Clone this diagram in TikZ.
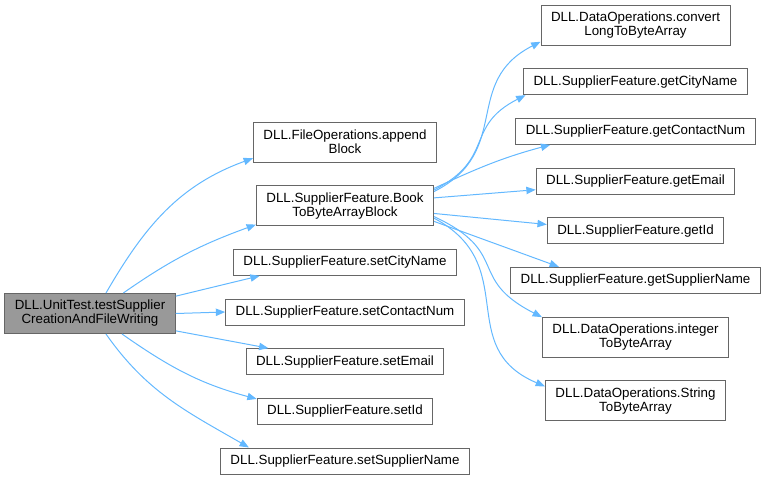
\documentclass[tikz,border=0pt]{standalone}
\usepackage{fontspec}
\setmainfont{Liberation Sans}
\usepackage{xcolor}
\usetikzlibrary{arrows.meta,positioning}
\definecolor{edgeblue}{HTML}{63B8FF}
\definecolor{boxgray}{HTML}{666666}
\definecolor{rootfill}{HTML}{999999}

\begin{document}
\begin{tikzpicture}[
  x=0.75pt, y=0.75pt,
  node distance=17pt,
  fnbox/.style={rectangle, draw=boxgray, fill=white, line width=0.75pt, inner xsep=7.5pt, inner ysep=5pt, minimum height=19.5pt, align=center, font=\fontsize{10}{10.5}\selectfont},
  tall/.style={minimum height=30pt},
  rootbox/.style={fnbox, tall, fill=rootfill},
  call/.style={-{Triangle[length=7pt,width=5.5pt]}, draw=edgeblue, line width=0.75pt}
]
  \useasboundingbox (0,0) rectangle (763,-479);
  % caller
  \node[rootbox] (test) at (90,-313.5) {DLL.UnitTest.testSupplier\\CreationAndFileWriting};
  % called directly
  \node[fnbox, tall] (append) at (345,-142) {DLL.FileOperations.append\\Block};
  \node[fnbox, tall, below=of append] (book) {DLL.SupplierFeature.Book\\ToByteArrayBlock};
  \node[fnbox, below=of book] (setcity) {DLL.SupplierFeature.setCityName};
  \node[fnbox, below=of setcity] (setcontact) {DLL.SupplierFeature.setContactNum};
  \node[fnbox, below=of setcontact] (setemail) {DLL.SupplierFeature.setEmail};
  \node[fnbox, below=of setemail] (setid) {DLL.SupplierFeature.setId};
  \node[fnbox, below=of setid] (setsupplier) {DLL.SupplierFeature.setSupplierName};
  % called from book
  \node[fnbox, tall] (convlong) at (635.5,-25) {DLL.DataOperations.convert\\LongToByteArray};
  \node[fnbox, below=of convlong] (getcity) {DLL.SupplierFeature.getCityName};
  \node[fnbox, below=of getcity] (getcontact) {DLL.SupplierFeature.getContactNum};
  \node[fnbox, below=of getcontact] (getemail) {DLL.SupplierFeature.getEmail};
  \node[fnbox, below=of getemail] (getid) {DLL.SupplierFeature.getId};
  \node[fnbox, below=of getid] (getsupplier) {DLL.SupplierFeature.getSupplierName};
  \node[fnbox, tall, below=of getsupplier] (intarray) {DLL.DataOperations.integer\\ToByteArray};
  \node[fnbox, tall, below=of intarray] (strarray) {DLL.DataOperations.String\\ToByteArray};

  \draw[call] ([xshift=12pt]test.north) to[out=60,in=200] (append.190);
  \draw[call] ([xshift=25pt]test.north) to[out=35,in=200] (book.192);
  \draw[call] ([yshift=13pt]test.east) -- (setcity.189);
  \draw[call] (test.east) -- (setcontact.west);
  \draw[call] ([yshift=-13pt]test.east) -- (setemail.170);
  \draw[call] ([xshift=24pt]test.south) to[out=-35,in=165] (setid.172);
  \draw[call] ([xshift=12pt]test.south) to[out=-55,in=150] (setsupplier.172);

  \draw[call] (book.9) to[out=27,in=207,distance=67pt] (convlong.190);
  \draw[call] (book.10) to[out=27,in=207,distance=52pt] (getcity.187.5);
  \draw[call] (book.11) to[out=25,in=195] (getcontact.189);
  \draw[call] (book.5) -- (getemail.185);
  \draw[call] (book.-5) -- (getid.176);
  \draw[call] (book.-10) -- (getsupplier.170);
  \draw[call] (book.-7) to[out=-25,in=153,distance=64pt] (intarray.168);
  \draw[call] (book.-8) to[out=-28,in=157,distance=75pt] (strarray.171);
\end{tikzpicture}
\end{document}
